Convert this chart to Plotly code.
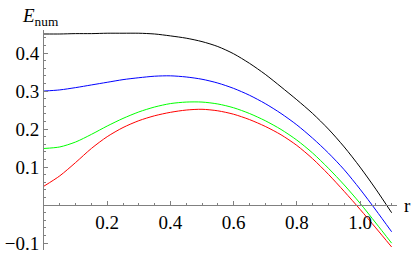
import plotly.graph_objects as go

r = [0, 0.05, 0.1, 0.15, 0.2, 0.25, 0.3, 0.35, 0.4, 0.45, 0.5, 0.55,
     0.6, 0.65, 0.7, 0.75, 0.8, 0.85, 0.9, 0.95, 1.0, 1.05, 1.1]

e_black = [0.450, 0.450, 0.451, 0.451, 0.452, 0.452, 0.452, 0.450, 0.445, 0.439, 0.430, 0.417,
           0.398, 0.373, 0.344, 0.311, 0.277, 0.241, 0.200, 0.153, 0.100, 0.042, -0.020]
e_blue = [0.300, 0.303, 0.309, 0.316, 0.323, 0.330, 0.335, 0.339, 0.340, 0.337, 0.331, 0.321,
          0.307, 0.289, 0.267, 0.241, 0.211, 0.176, 0.137, 0.093, 0.042, -0.013, -0.070]
e_green = [0.149, 0.153, 0.166, 0.186, 0.208, 0.228, 0.245, 0.258, 0.267, 0.271, 0.271, 0.266,
           0.256, 0.241, 0.222, 0.199, 0.171, 0.137, 0.097, 0.053, 0.005, -0.047, -0.100]
e_red = [0.050, 0.077, 0.112, 0.149, 0.180, 0.204, 0.222, 0.235, 0.244, 0.250, 0.252, 0.248,
         0.239, 0.225, 0.207, 0.185, 0.157, 0.122, 0.081, 0.036, -0.011, -0.060, -0.110]

x_ticks = [0.2, 0.4, 0.6, 0.8, 1.0]
x_labels = ["0.2", "0.4", "0.6", "0.8", "1.0"]
y_ticks = [-0.1, 0.1, 0.2, 0.3, 0.4]
y_labels = ["\u22120.1", "0.1", "0.2", "0.3", "0.4"]

series = [("black", e_black), ("#0000ff", e_blue), ("#00ff00", e_green), ("#ff0000", e_red)]

fig = go.Figure()
for col, ys in series:
    fig.add_trace(go.Scatter(x=r, y=ys, mode="lines",
                             line=dict(color=col, width=1, shape="spline", smoothing=0.8),
                             showlegend=False, hoverinfo="skip"))

xmin, xmax = 0.0, 1.117
ymin, ymax = -0.118, 0.4605
axis_col = "#808080"
serif = "Liberation Serif"
font = dict(family=serif, size=19, color="black")

fig.update_layout(
    width=415, height=254,
    margin=dict(l=44, r=18, t=30, b=4),
    paper_bgcolor="white", plot_bgcolor="white",
    font=dict(family=serif, size=19, color="black"),
    xaxis=dict(range=[xmin, xmax], showgrid=False, zeroline=False,
               showline=True, linecolor=axis_col, linewidth=1,
               anchor="free", position=(0 - ymin) / (ymax - ymin),
               tickmode="array", tickvals=x_ticks, ticktext=x_labels,
               ticks="inside", ticklen=4, tickcolor=axis_col, tickwidth=1,
               minor=dict(ticks="inside", ticklen=2, dtick=0.05, tick0=0, tickcolor=axis_col, showgrid=False),
               tickfont=font),
    yaxis=dict(range=[ymin, ymax], showgrid=False, zeroline=False, automargin=False,
               showline=True, linecolor=axis_col, linewidth=1,
               tickmode="array", tickvals=y_ticks, ticktext=y_labels,
               ticks="inside", ticklen=4, tickcolor=axis_col, tickwidth=1,
               minor=dict(ticks="inside", ticklen=2, dtick=0.02, tick0=0, tickcolor=axis_col, showgrid=False),
               tickfont=font),
    annotations=[
        dict(text="<i>E</i><sub>num</sub>", xref="paper", yref="paper", x=-0.065, y=1.0,
             xanchor="left", yanchor="bottom", showarrow=False, borderpad=0,
             font=dict(family=serif, size=19, color="black")),
        dict(text="r", xref="paper", yref="paper", x=1.018, y=(0 - ymin) / (ymax - ymin),
             xanchor="left", yanchor="middle", showarrow=False, borderpad=0,
             font=dict(family=serif, size=19, color="black")),
    ],
)

fig.write_html("out.html", config={"displayModeBar": False},
               post_script="document.body.style.margin='0';")
